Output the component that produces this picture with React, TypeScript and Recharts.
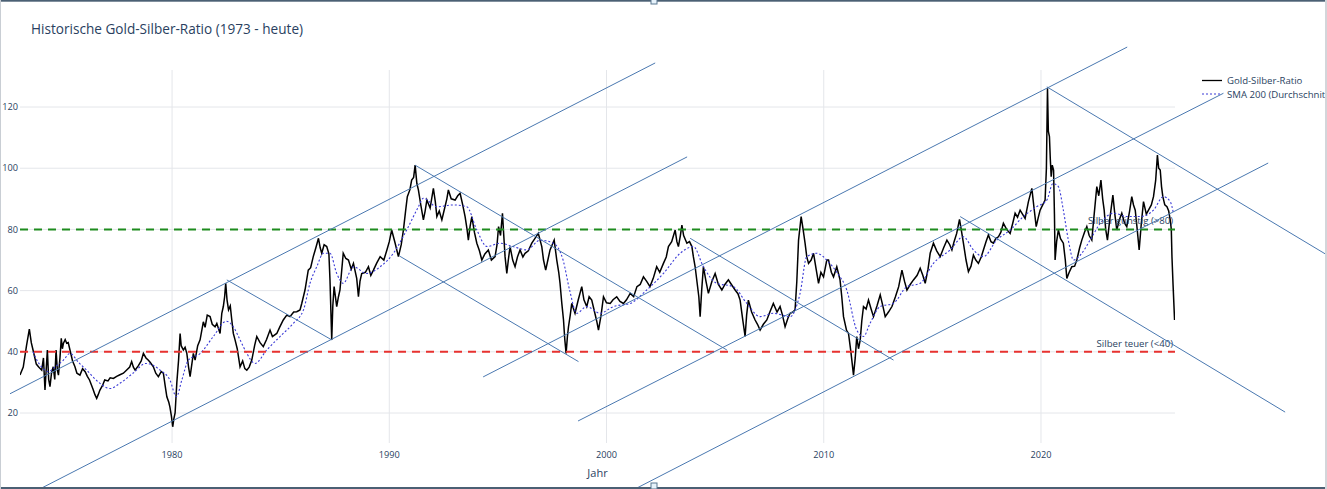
import React from 'react';
import { ComposedChart, Line, XAxis, YAxis, CartesianGrid, ReferenceLine } from 'recharts';

// Gold-Silber-Ratio [year, value]
const RATIO: [number, number][] = [
  [1973.0, 32.4], [1973.15, 35], [1973.3, 42], [1973.43, 47.4], [1973.52, 43], [1973.6, 40.6], [1973.75, 36], [1973.85, 35.1],
  [1974.0, 34], [1974.08, 38], [1974.15, 27.5], [1974.26, 40.6], [1974.32, 31], [1974.38, 28.6], [1974.45, 33], [1974.53, 35.1],
  [1974.6, 31], [1974.66, 40.6], [1974.72, 34], [1974.77, 32.4], [1974.84, 38], [1974.9, 44.4], [1974.95, 41], [1975.0, 42.8],
  [1975.08, 44], [1975.15, 42.8], [1975.22, 43], [1975.3, 40.6], [1975.42, 37], [1975.53, 35.1], [1975.62, 33], [1975.76, 32.4],
  [1975.88, 34.5], [1976.0, 33.5], [1976.1, 32], [1976.2, 30.8], [1976.35, 28], [1976.45, 26], [1976.53, 24.8], [1976.6, 26],
  [1976.68, 27.5], [1976.8, 29], [1976.9, 30.8], [1977.05, 30.5], [1977.15, 31.5], [1977.3, 31.3], [1977.45, 32], [1977.6, 32.5],
  [1977.76, 33], [1977.9, 34], [1978.05, 35], [1978.14, 36.8], [1978.22, 35], [1978.3, 34], [1978.45, 35.5], [1978.58, 37],
  [1978.68, 39.5], [1978.8, 38], [1978.9, 37.3], [1979.0, 36.5], [1979.14, 35.1], [1979.25, 33], [1979.37, 31.9], [1979.5, 33.5],
  [1979.6, 33], [1979.68, 29], [1979.76, 25.3], [1979.85, 23.5], [1979.9, 22], [1979.97, 19], [1980.03, 15.5], [1980.08, 18],
  [1980.14, 20], [1980.22, 30], [1980.3, 37.3], [1980.37, 46], [1980.42, 42], [1980.52, 40.6], [1980.6, 41.5], [1980.68, 39.5],
  [1980.76, 35], [1980.83, 31.9], [1980.98, 39.5], [1981.06, 37.3], [1981.18, 42], [1981.29, 43.9], [1981.44, 49.8], [1981.52, 48],
  [1981.62, 52], [1981.75, 51.5], [1981.85, 49], [1981.98, 48.2], [1982.06, 49.3], [1982.21, 46], [1982.29, 52.6], [1982.36, 54.8],
  [1982.42, 58], [1982.47, 62.4], [1982.53, 57], [1982.6, 53.7], [1982.68, 55], [1982.75, 50.4], [1982.82, 46], [1982.9, 43.9],
  [1983.0, 41], [1983.13, 35.1], [1983.25, 37], [1983.35, 34.5], [1983.44, 34], [1983.55, 35], [1983.67, 37.3], [1983.8, 42],
  [1983.9, 45], [1984.05, 43], [1984.2, 41.7], [1984.35, 44], [1984.51, 47.1], [1984.62, 45], [1984.82, 46], [1984.95, 48],
  [1985.12, 50.4], [1985.28, 52], [1985.43, 51.5], [1985.6, 53], [1985.74, 53.1], [1985.89, 53.7], [1985.97, 55.8], [1986.12, 60.2],
  [1986.27, 66.7], [1986.38, 67.5], [1986.5, 71.1], [1986.62, 74], [1986.74, 77.1], [1986.82, 74], [1986.89, 72.2], [1987.0, 75],
  [1987.12, 74.4], [1987.22, 72], [1987.27, 63.5], [1987.35, 43.9], [1987.4, 55], [1987.46, 61.3], [1987.58, 54.8], [1987.66, 58],
  [1987.73, 60.2], [1987.88, 72.2], [1988.0, 70.5], [1988.12, 70], [1988.25, 67], [1988.35, 68.9], [1988.5, 64], [1988.58, 58],
  [1988.65, 63], [1988.73, 65.6], [1988.9, 66], [1989.04, 67.8], [1989.15, 65], [1989.27, 66.7], [1989.42, 69], [1989.58, 71.1],
  [1989.75, 70], [1989.89, 73.3], [1990.0, 76], [1990.11, 79.8], [1990.27, 75.5], [1990.42, 71.1], [1990.55, 75], [1990.65, 79.8],
  [1990.75, 86], [1990.83, 90.7], [1990.95, 93], [1991.03, 96.1], [1991.12, 97], [1991.19, 101], [1991.27, 95], [1991.34, 92.9],
  [1991.45, 88], [1991.57, 83.1], [1991.65, 86], [1991.73, 89.6], [1991.88, 87], [1992.03, 93.4], [1992.12, 89], [1992.19, 84.2],
  [1992.3, 86], [1992.42, 83.1], [1992.55, 87], [1992.65, 90], [1992.72, 92.9], [1992.85, 90], [1993.03, 89.6], [1993.15, 91],
  [1993.26, 91.8], [1993.38, 88], [1993.49, 84.2], [1993.58, 80], [1993.64, 76.5], [1993.72, 81], [1993.8, 84.2], [1993.92, 79],
  [1994.03, 75.5], [1994.15, 73], [1994.26, 70], [1994.4, 72], [1994.56, 73.3], [1994.7, 70], [1994.87, 71.1], [1994.96, 75],
  [1995.03, 80.9], [1995.12, 78], [1995.21, 85.3], [1995.27, 78], [1995.33, 71.1], [1995.41, 65.6], [1995.48, 70], [1995.56, 74.4],
  [1995.68, 70], [1995.79, 67.8], [1995.9, 71], [1996.02, 73.3], [1996.15, 71], [1996.25, 72.2], [1996.4, 73], [1996.56, 75.5],
  [1996.7, 77], [1996.86, 78.7], [1997.02, 74.4], [1997.1, 70], [1997.2, 66.7], [1997.3, 70], [1997.4, 73.3], [1997.5, 75],
  [1997.59, 76.5], [1997.71, 70], [1997.8, 66], [1997.86, 62.4], [1997.94, 56], [1998.02, 50.4], [1998.08, 44], [1998.14, 39.5],
  [1998.2, 45], [1998.25, 48.2], [1998.33, 52], [1998.4, 55.8], [1998.55, 52.6], [1998.7, 57], [1998.86, 61.3], [1998.96, 57],
  [1999.09, 54.8], [1999.2, 58], [1999.32, 56.9], [1999.45, 53], [1999.55, 50], [1999.63, 47.1], [1999.75, 52], [1999.86, 58],
  [2000.0, 56], [2000.17, 55.8], [2000.3, 57], [2000.47, 58], [2000.62, 56.5], [2000.78, 55.8], [2000.92, 57], [2001.09, 59.1],
  [2001.25, 58], [2001.4, 61.3], [2001.55, 62], [2001.7, 64.5], [2001.85, 63], [2002.0, 61.3], [2002.15, 64], [2002.31, 67.8],
  [2002.45, 66], [2002.62, 68.9], [2002.75, 71], [2002.85, 74.4], [2003.0, 76], [2003.16, 79.8], [2003.24, 76], [2003.31, 74.4],
  [2003.4, 78], [2003.47, 81.4], [2003.55, 78], [2003.7, 75.5], [2003.82, 76], [2003.93, 74.4], [2004.0, 71], [2004.08, 67.8],
  [2004.18, 62], [2004.25, 58], [2004.31, 51.5], [2004.38, 60], [2004.46, 67.8], [2004.58, 63], [2004.69, 59.1], [2004.85, 63],
  [2005.0, 65.6], [2005.15, 62], [2005.31, 60.2], [2005.45, 62], [2005.61, 63.5], [2005.75, 62], [2005.92, 60.2], [2006.05, 59],
  [2006.15, 56.9], [2006.28, 50], [2006.38, 45], [2006.45, 52], [2006.53, 56.9], [2006.68, 53], [2006.84, 50.4], [2006.95, 49],
  [2007.07, 47.1], [2007.22, 49], [2007.38, 50.4], [2007.52, 53], [2007.68, 55.8], [2007.85, 53], [2007.99, 54.8], [2008.1, 52],
  [2008.22, 48.2], [2008.35, 51], [2008.45, 52.6], [2008.58, 53], [2008.68, 53.7], [2008.76, 63], [2008.84, 76.5], [2008.96, 84.2],
  [2009.05, 80], [2009.14, 75.5], [2009.22, 71], [2009.3, 68.9], [2009.42, 70], [2009.53, 72.2], [2009.65, 67], [2009.76, 62.4],
  [2009.87, 66], [2009.99, 64.5], [2010.14, 70], [2010.22, 70], [2010.35, 66], [2010.45, 64.5], [2010.6, 67.8], [2010.75, 63.5],
  [2010.83, 58], [2010.91, 51.5], [2011.05, 47], [2011.14, 46], [2011.25, 40], [2011.37, 32.4], [2011.45, 38], [2011.52, 45],
  [2011.6, 41], [2011.68, 43.9], [2011.75, 50], [2011.83, 54.8], [2011.95, 54], [2012.06, 56.9], [2012.18, 54], [2012.29, 51.5],
  [2012.45, 55], [2012.6, 58.6], [2012.72, 55], [2012.83, 51.5], [2012.98, 53], [2013.14, 54.8], [2013.3, 58], [2013.45, 61.3],
  [2013.6, 66.7], [2013.72, 63], [2013.83, 60.2], [2013.98, 62], [2014.13, 63.5], [2014.3, 65], [2014.44, 67.3], [2014.56, 65],
  [2014.67, 62.4], [2014.8, 67], [2014.9, 72.2], [2015.05, 75.5], [2015.2, 73], [2015.36, 71.1], [2015.52, 74], [2015.67, 76.5],
  [2015.8, 75], [2015.9, 73.3], [2016.0, 76], [2016.12, 78.7], [2016.25, 83.3], [2016.35, 79], [2016.43, 75.5], [2016.55, 70],
  [2016.66, 66.2], [2016.78, 68], [2016.89, 71.6], [2017.0, 70], [2017.12, 68.9], [2017.25, 71], [2017.35, 73.3], [2017.47, 76],
  [2017.58, 78.2], [2017.7, 76], [2017.81, 75.5], [2017.92, 77], [2018.04, 77.6], [2018.15, 79], [2018.27, 82], [2018.42, 80],
  [2018.58, 78.7], [2018.7, 82], [2018.81, 85.3], [2018.92, 84], [2019.04, 86.3], [2019.15, 85], [2019.27, 83.6], [2019.42, 89],
  [2019.58, 93.4], [2019.68, 87], [2019.78, 80.9], [2019.88, 84], [2019.96, 86.3], [2020.08, 88], [2020.19, 89.6], [2020.25, 100],
  [2020.3, 126.1], [2020.34, 112], [2020.39, 110.3], [2020.43, 103], [2020.47, 97.2], [2020.52, 101], [2020.58, 99.4], [2020.62, 85],
  [2020.65, 70], [2020.72, 76], [2020.8, 79.8], [2020.9, 77], [2021.03, 75.5], [2021.12, 70], [2021.19, 64], [2021.3, 66],
  [2021.42, 67.8], [2021.55, 68], [2021.65, 70], [2021.78, 74], [2021.88, 76.5], [2022.0, 79], [2022.11, 80.9], [2022.22, 78],
  [2022.34, 76.5], [2022.45, 85], [2022.57, 94], [2022.66, 91], [2022.76, 96.1], [2022.84, 90], [2022.91, 86.3], [2022.98, 80],
  [2023.06, 76.5], [2023.18, 84], [2023.31, 91.2], [2023.4, 85], [2023.49, 79.8], [2023.6, 83], [2023.72, 85.3], [2023.85, 82],
  [2023.95, 80.9], [2024.08, 86], [2024.18, 90.7], [2024.26, 88], [2024.34, 86.3], [2024.43, 80], [2024.52, 73.3], [2024.62, 82],
  [2024.72, 89.1], [2024.85, 85], [2024.95, 86.3], [2025.08, 88], [2025.18, 90.7], [2025.28, 96], [2025.36, 104.3], [2025.42, 100],
  [2025.49, 99.4], [2025.55, 94], [2025.61, 90.7], [2025.7, 88], [2025.8, 87.4], [2025.88, 86], [2025.95, 83.1], [2026.0, 80],
  [2026.03, 71.1], [2026.08, 62], [2026.15, 50.4],
];

// SMA 200 [year, value]
const SMA200: [number, number][] = [
  [1973.6, 40], [1973.8, 37], [1974.0, 35], [1974.3, 33.5], [1974.6, 35], [1975.0, 37.3], [1975.3, 39.5], [1975.7, 36.5],
  [1976.07, 34], [1976.4, 31.5], [1976.68, 29.7], [1977.15, 28], [1977.6, 29.7], [1978.2, 33], [1978.8, 36.2], [1979.15, 35.5],
  [1979.45, 34], [1979.9, 30.8], [1980.2, 25.3], [1980.45, 30.8], [1980.75, 37.3], [1981.3, 39.5], [1981.9, 45], [1982.5, 50],
  [1982.82, 48.2], [1983.13, 43.9], [1983.44, 39.5], [1983.82, 36.2], [1984.36, 40.6], [1984.97, 45], [1985.58, 49.3], [1986.05, 53.7],
  [1986.35, 62.4], [1986.66, 67.8], [1986.97, 72.2], [1987.27, 72.2], [1987.58, 65.6], [1987.88, 62.4], [1988.35, 67.8], [1988.96, 65.6],
  [1989.58, 67.8], [1990.19, 72.2], [1990.8, 79.8], [1991.34, 87.4], [1991.57, 90.2], [1992.19, 87.4], [1992.95, 88], [1993.57, 87.4],
  [1994.03, 79.8], [1994.5, 74.4], [1995.1, 75.5], [1995.7, 74.4], [1996.33, 73.3], [1996.94, 76.5], [1997.55, 75.5], [1998.0, 70],
  [1998.3, 60.2], [1998.63, 52.6], [1999.09, 54.8], [1999.7, 52.6], [2000.32, 54.8], [2001.09, 55.8], [2001.85, 60.2], [2002.62, 65.6],
  [2003.39, 72.2], [2004.0, 74.4], [2004.46, 67.8], [2005.07, 62.4], [2005.84, 61.3], [2006.46, 55.8], [2007.07, 51.5], [2007.68, 52.6],
  [2008.45, 51.5], [2008.91, 59.1], [2009.22, 71.1], [2009.68, 72.2], [2010.2, 69.5], [2010.6, 66], [2011.06, 60.2], [2011.52, 47.1],
  [2011.83, 45], [2012.13, 49.3], [2012.6, 54.8], [2013.2, 55.8], [2013.83, 61.3], [2014.44, 62.4], [2015.05, 68.9], [2015.82, 73.3],
  [2016.43, 77.6], [2016.89, 73.3], [2017.35, 71.1], [2017.96, 76.5], [2018.58, 79.8], [2019.19, 84.2], [2019.8, 87.4], [2020.27, 89.6],
  [2020.55, 95], [2020.8, 94], [2021.03, 86.3], [2021.26, 76.5], [2021.5, 70], [2021.88, 72.2], [2022.26, 76.5], [2022.73, 82],
  [2023.35, 85.3], [2023.95, 84.2], [2024.57, 84.2], [2025.18, 86.3], [2025.64, 90.7], [2025.95, 89.1], [2026.1, 85.3],
];

const X_TICKS = [1980, 1990, 2000, 2010, 2020];
const Y_TICKS = [20, 40, 60, 80, 100, 120];
const X_DOMAIN = [1973.0, 2026.17];
const Y_DOMAIN = [10.2, 132.1];

// Trend channel lines [year1, value1, year2, value2]
const TREND_LINES: [number, number, number, number][] = [
  [1972.54, 26.3, 2002.24, 134.4],
  [1973.92, -4.8, 2003.71, 103.7],
  [1982.52, 63.5, 1987.35, 43.9],
  [1991.19, 101.0, 2005.54, 40.6],
  [1990.47, 71.3, 1998.71, 36.8],
  [1994.32, 31.8, 2023.97, 139.6],
  [1998.69, 17.4, 2028.4, 124.5],
  [2003.85, 77.1, 2013.21, 37.3],
  [2016.28, 84.2, 2031.24, 20.3],
  [2020.27, 126.6, 2033.18, 71.6],
  [2001.32, -4.8, 2030.46, 101.7],
];

const THRESHOLD_VALUES = [80, 40];
const THRESHOLD_COLORS = ['#1e8c1e', '#e8322f'];
const THRESHOLD_LABELS = ['Silber günstig (>80)', 'Silber teuer (<40)'];

const SERIES_NAMES = ['Gold-Silber-Ratio', 'SMA 200 (Durchschnitt)'];
const TITLE = 'Historische Gold-Silber-Ratio (1973 - heute)';
const X_TITLE = 'Jahr';

const FONT = '"Open Sans", verdana, arial, sans-serif';
const TEXT = '#2a3f5f';

const ratioData = RATIO.map(([year, value]) => ({ year, value }));
const smaData = SMA200.map(([year, value]) => ({ year, value }));

const makeLabel = (text: string) => (props: any) => {
  const vb = props.viewBox || {};
  return (
    <text x={vb.x + vb.width - 2} y={vb.y - 5} textAnchor="end" fontSize={9.6} fill={TEXT} fontFamily={FONT}>
      {text}
    </text>
  );
};

export default function App() {
  return (
    <div style={{ position: 'fixed', left: 0, top: 0, width: 1327, height: 489, background: '#fff', overflow: 'hidden' }}>
      <ComposedChart width={1327} height={489} margin={{ top: 70, right: 152, left: 0, bottom: 16 }}>
        <CartesianGrid stroke="#e4e6ea" strokeWidth={1} horizontalValues={Y_TICKS} verticalValues={X_TICKS} />
        <XAxis
          dataKey="year"
          type="number"
          domain={X_DOMAIN}
          ticks={X_TICKS}
          allowDataOverflow
          axisLine={false}
          tickLine={false}
          tickSize={0}
          tickMargin={8}
          height={30}
          tick={{ fontSize: 9.2, fill: TEXT, fontFamily: FONT }}
        />
        <YAxis
          type="number"
          domain={Y_DOMAIN}
          ticks={Y_TICKS}
          allowDataOverflow
          axisLine={false}
          tickLine={false}
          tickSize={0}
          tickMargin={2}
          width={20}
          tick={{ fontSize: 9.2, fill: TEXT, fontFamily: FONT }}
        />
        <Line data={ratioData} dataKey="value" name={SERIES_NAMES[0]} type="linear" stroke="#000" strokeWidth={1.5} dot={false} isAnimationActive={false} />
        <Line data={smaData} dataKey="value" name={SERIES_NAMES[1]} type="monotone" stroke="#3a3ad6" strokeWidth={1.1} strokeDasharray="2 2" dot={false} isAnimationActive={false} />
        {THRESHOLD_VALUES.map((v, i) => (
          <ReferenceLine key={'h' + i} y={v} stroke={THRESHOLD_COLORS[i]} strokeWidth={2} strokeDasharray="8 6" label={makeLabel(THRESHOLD_LABELS[i])} />
        ))}
        {TREND_LINES.map(([x1, y1, x2, y2], i) => (
          <ReferenceLine
            key={'t' + i}
            segment={[{ x: x1, y: y1 }, { x: x2, y: y2 }]}
            stroke="#4a78b0"
            strokeWidth={1}
            ifOverflow="visible"
          />
        ))}
      </ComposedChart>
      <svg width={1327} height={489} style={{ position: 'absolute', left: 0, top: 0, pointerEvents: 'none' }}>
        <text x={31} y={34.3} fontSize={13.6} fill={TEXT} fontFamily={FONT}>{TITLE}</text>
        <text x={597.5} y={477} fontSize={11} fill={TEXT} fontFamily={FONT} textAnchor="middle">{X_TITLE}</text>
        <line x1={1202} y1={80.5} x2={1222} y2={80.5} stroke="#000" strokeWidth={1.3} />
        <text x={1227} y={84} fontSize={9.6} fill={TEXT} fontFamily={FONT}>{SERIES_NAMES[0]}</text>
        <line x1={1202} y1={94} x2={1222} y2={94} stroke="#3a3ad6" strokeWidth={1.1} strokeDasharray="2 2" />
        <text x={1227} y={97.5} fontSize={9.6} fill={TEXT} fontFamily={FONT}>{SERIES_NAMES[1]}</text>
        <rect x={0} y={0} width={1327} height={1.7} fill="#4b6074" />
        <rect x={0} y={487} width={1327} height={2} fill="#4b6074" />
        <rect x={0} y={0} width={1} height={489} fill="#c9ced4" />
        <rect x={1325} y={0} width={2} height={489} fill="#d3d6da" />
        <rect x={651} y={-2} width={6} height={6} fill="#e6f2fb" stroke="#5a7891" strokeWidth={1} />
        <rect x={651} y={483} width={6} height={6} fill="#e6f2fb" stroke="#5a7891" strokeWidth={1} />
      </svg>
    </div>
  );
}
